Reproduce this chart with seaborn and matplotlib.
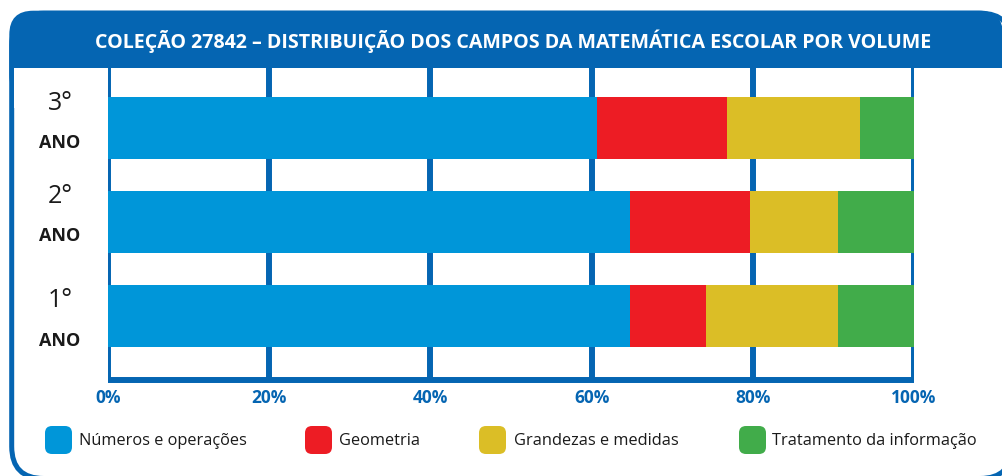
import numpy as np
import pandas as pd
import matplotlib
matplotlib.use("Agg")
import matplotlib.pyplot as plt
import seaborn as sns
from matplotlib.patches import FancyBboxPatch, Rectangle
import matplotlib.transforms as mtransforms

# ---------------- data ----------------
years = ["3°", "2°", "1°"]
fields = ["Números e operações", "Geometria", "Grandezas e medidas", "Tratamento da informação"]
numeros = [60.7, 64.8, 64.8]
geometria = [16.1, 14.8, 9.4]
grandezas = [16.5, 11.0, 16.4]
tratamento = [6.7, 9.4, 9.4]
colors = ["#0096d9", "#ed1c24", "#dbbe26", "#41ac4a"]
xticks = [0, 20, 40, 60, 80, 100]
xtick_labels = ["0%", "20%", "40%", "60%", "80%", "100%"]
title = "COLEÇÃO 27842 – DISTRIBUIÇÃO DOS CAMPOS DA MATEMÁTICA ESCOLAR POR VOLUME"
year_suffix = "ANO"

FRAME = "#0565b2"
TEXT = "#1a1a1a"

sns.set_style("white")
plt.rcParams["font.family"] = ["Open Sans", "DejaVu Sans"]

values = [numeros, geometria, grandezas, tratamento]
rows = []
for yi, y in enumerate(years):
    cum = 0.0
    for fi, f in enumerate(fields):
        cum += values[fi][yi]
        rows.append({"year": y, "field": f, "value": values[fi][yi], "cum": cum})
df = pd.DataFrame(rows)

W, H = 1002, 477
fig = plt.figure(figsize=(W / 100, H / 100), dpi=100)

# background pixel-coordinate axes for the frame
bg = fig.add_axes([0, 0, 1, 1], zorder=0)
bg.set_xlim(0, W)
bg.set_ylim(H, 0)
bg.axis("off")
# outline of the rounded frame (stroke); right and bottom edges fall outside the image
bg.add_patch(FancyBboxPatch((11.7, 14.2), 1012 - 11.7, 479.5 - 14.2,
                            boxstyle="round,pad=0,rounding_size=32",
                            facecolor="white", edgecolor=FRAME, linewidth=3.6))
# keep the right and bottom edges clean
bg.add_patch(Rectangle((990, 66), 40, 392, facecolor="white", edgecolor="none"))
bg.add_patch(Rectangle((48, 470), 930, 20, facecolor="white", edgecolor="none"))
# title band with rounded top corners
bg.add_patch(FancyBboxPatch((9.3, 11.7), 1003 - 9.3, 100 - 11.7,
                            boxstyle="round,pad=0,rounding_size=24",
                            facecolor=FRAME, edgecolor="none"))
bg.add_patch(Rectangle((14.1, 68.5), 1020, 40, facecolor="white", edgecolor="none"))

t = bg.text(513, 41.5, title, color="white", fontsize=13, fontweight="bold",
            ha="center", va="center")

# main plot axes
x0, x1 = 108, 914
y0, y1 = 68.5, 381
ax = fig.add_axes([x0 / W, 1 - y1 / H, (x1 - x0) / W, (y1 - y0) / H], zorder=1)
ax.patch.set_alpha(0)

for f, c in reversed(list(zip(fields, colors))):
    sub = df[df["field"] == f]
    sns.barplot(data=sub, x="cum", y="year", order=years, color=c, saturation=1,
                width=0.66, orient="h", errorbar=None, edgecolor="none",
                linewidth=0, ax=ax, zorder=3)

ax.set_xlim(0, 100)
ax.set_ylim(2.68, -0.638)
ax.set_xticks(xticks)
ax.set_xticklabels(xtick_labels, color=FRAME, fontweight="bold", fontsize=12.5)
ax.set_yticks([])
ax.set_xlabel("")
ax.set_ylabel("")
ax.tick_params(axis="x", length=0, pad=6)
ax.grid(axis="x", color=FRAME, linewidth=4.3)
ax.grid(axis="y", visible=False)
ax.set_axisbelow(True)
for s in ["top", "right", "left"]:
    ax.spines[s].set_visible(False)
ax.spines["bottom"].set_color(FRAME)
ax.spines["bottom"].set_linewidth(4.3)
ax.spines["bottom"].set_capstyle("butt")

# year labels left of the bars
lab_tr = mtransforms.blended_transform_factory(ax.transAxes, ax.transData)
num_off = [-25, -26, -16]   # px offsets from bar centre
ano_off = [14, 13, 24]
pxu = (y1 - y0) / (2.68 + 0.638)
lx = (60 - x0) / (x1 - x0)
for i, y in enumerate(years):
    ax.text(lx, i + num_off[i] / pxu, y, transform=lab_tr, ha="center", va="center",
            fontsize=18, color=TEXT, clip_on=False)
    ax.text(lx, i + ano_off[i] / pxu, year_suffix, transform=lab_tr, ha="center",
            va="center", fontsize=13, fontweight="bold", color=TEXT, clip_on=False)

# legend
sq_x = [45, 305, 479, 739]
tx_x = [79, 339, 514, 772]
leg_texts = []
for f, c, sx, tx in zip(fields, colors, sq_x, tx_x):
    bg.add_patch(FancyBboxPatch((sx, 427), 27, 28, boxstyle="round,pad=0,rounding_size=7",
                                facecolor=c, edgecolor="none"))
    leg_texts.append(bg.text(tx, 441, f, ha="left", va="center", fontsize=12.5, color=TEXT))

# fit title and legend text widths to the reference
fig.canvas.draw()
r = fig.canvas.get_renderer()
wt = t.get_window_extent(r).width
t.set_fontsize(13 * 834 / wt)
tot = sum(lt.get_window_extent(r).width for lt in leg_texts)
for lt in leg_texts:
    lt.set_fontsize(12.5 * 620 / tot)

fig.savefig("out.png", dpi=100)
